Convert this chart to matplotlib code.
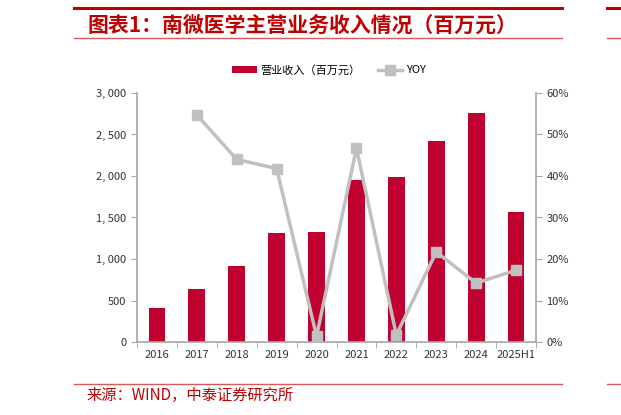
import matplotlib
matplotlib.use("Agg")
import matplotlib.pyplot as plt
from matplotlib.lines import Line2D
from matplotlib.patches import Patch
from matplotlib.ticker import FuncFormatter

plt.rcParams['font.family'] = ['Noto Sans CJK SC', 'DejaVu Sans']

years = ['2016', '2017', '2018', '2019', '2020', '2021', '2022', '2023', '2024', '2025H1']
revenue = [413, 638, 919, 1313, 1325, 1955, 1988, 2418, 2763, 1566]
yoy = [None, 54.7, 44.0, 41.8, 1.4, 46.7, 1.7, 21.7, 14.2, 17.3]

RED = '#C0002F'
GRAY = '#C0C0C0'
AX_GRAY = '#A6A6A6'
W, H = 621, 415

fig = plt.figure(figsize=(6.21, 4.15), dpi=100)


def hline(x0, x1, y, color, lw):
    fig.add_artist(Line2D([x0 / W, x1 / W], [1 - y / H] * 2, color=color, lw=lw))


# header / footer decoration (this panel plus the edge of the next one)
for x0, x1 in [(74, 562), (607, 621)]:
    hline(x0, x1, 8.5, '#C00000', 2.2)
    hline(x0, x1, 38, '#D85A5A', 1.0)
    hline(x0, x1, 384, '#D85A5A', 1.0)

fig.text(87 / W, 1 - 25 / H, '图表1：南微医学主营业务收入情况（百万元）', color='#C00000',
         fontsize=15, fontweight='bold', va='center', ha='left')
fig.text(86 / W, 1 - 395 / H, '来源：WIND，中泰证券研究所', color='#C00000',
         fontsize=11, va='center', ha='left')

ax = fig.add_axes([137 / W, 73 / H, 399 / W, 249 / H])
x = list(range(len(years)))
ax.bar(x, revenue, width=0.42, color=RED, zorder=2)
ax.set_xlim(-0.5, len(years) - 0.5)
ax.set_ylim(0, 3000)
ax.set_yticks(range(0, 3001, 500))
ax.yaxis.set_major_formatter(FuncFormatter(lambda v, p: f'{int(v):,}'.replace(',', ', ')))
ax.set_xticks(x)
ax.set_xticklabels(years)
ax.set_xticks([i + 0.5 for i in range(-1, len(years))], minor=True)
ax.tick_params(axis='x', which='major', length=0, pad=6, labelsize=8, colors='#333333')
ax.tick_params(axis='x', which='minor', length=4, color=AX_GRAY, direction='out')
ax.tick_params(axis='y', length=4, color=AX_GRAY, labelsize=8, colors='#333333')
for side in ['top', 'right']:
    ax.spines[side].set_visible(False)
for side in ['left', 'bottom']:
    ax.spines[side].set_color(AX_GRAY)
    ax.spines[side].set_linewidth(1.2)

ax2 = ax.twinx()
yx = [i for i, v in enumerate(yoy) if v is not None]
yv = [v for v in yoy if v is not None]
ax2.plot(yx, yv, color=GRAY, lw=2.5, marker='s', markersize=7, zorder=3)
ax2.set_ylim(0, 60)
ax2.set_yticks(range(0, 61, 10))
ax2.yaxis.set_major_formatter(FuncFormatter(lambda v, p: f'{int(v)}%'))
ax2.tick_params(axis='y', length=4, color=AX_GRAY, labelsize=8, colors='#333333')
for side in ['top', 'left', 'bottom']:
    ax2.spines[side].set_visible(False)
ax2.spines['right'].set_color(AX_GRAY)
ax2.spines['right'].set_linewidth(1.2)

handles = [Patch(facecolor=RED, edgecolor='none'),
           Line2D([0], [0], color=GRAY, lw=2.5, marker='s', markersize=7)]
fig.legend(handles, ['营业收入（百万元）', 'YOY'], loc='center', bbox_to_anchor=(329 / W, 1 - 70 / H),
           ncol=2, frameon=False, fontsize=8, handlelength=2.2, handleheight=0.5,
           columnspacing=1.6, handletextpad=0.3, prop={'size': 8})

fig.savefig('out.png', dpi=100)
